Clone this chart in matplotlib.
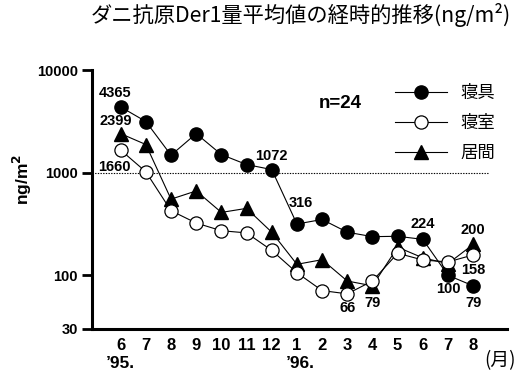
import numpy as np
import matplotlib
matplotlib.use("Agg")
import matplotlib.pyplot as plt

# monthly means, Jun '95 - Aug '96 (ng/m2)
months = ["6", "7", "8", "9", "10", "11", "12", "1", "2", "3", "4", "5", "6", "7", "8"]
bedding = [4365, 3150, 1480, 2400, 1500, 1200, 1072, 316, 350, 263, 238, 240, 224, 100, 79]
bedroom = [1660, 1020, 426, 323, 272, 259, 175, 106, 71, 66, 88, 164, 141, 135, 158]
living = [2399, 1880, 552, 664, 410, 449, 263, 128, 142, 88, 79, 188, 148, 130, 200]

# (series, index, text, dx, dy) in pixels
labels = [
    ("bedding", 0, "4365", -6, 14),
    ("living", 0, "2399", -5, 13),
    ("bedroom", 0, "1660", -6, -17),
    ("bedding", 6, "1072", 0, 14),
    ("bedding", 7, "316", 4, 21),
    ("bedding", 12, "224", 0, 15),
    ("living", 14, "200", 0, 14),
    ("bedroom", 14, "158", 0, -15),
    ("bedding", 13, "100", 0, -14),
    ("bedding", 14, "79", 0, -17),
    ("bedroom", 9, "66", 0, -14),
    ("living", 10, "79", 0, -17),
]

num_font = "Liberation Sans"
jp_font = ["Noto Sans CJK JP", "DejaVu Sans"]

fig = plt.figure(figsize=(5.19, 3.72), dpi=100)
ax = fig.add_axes([0.1767, 1 - 329 / 372, 0.8, (329 - 70) / 372])

x = np.arange(len(months))
series = {"bedding": bedding, "bedroom": bedroom, "living": living}

ax.plot(x, living, color="black", lw=0.8, marker="^", ms=9.5,
        mfc="black", mec="black", label="居間", zorder=3)
ax.plot(x, bedroom, color="black", lw=0.8, marker="o", ms=9.5,
        mfc="white", mec="black", mew=0.9, label="寝室", zorder=4)
ax.plot(x, bedding, color="black", lw=0.8, marker="o", ms=9.5,
        mfc="black", mec="black", label="寝具", zorder=5)

ax.axhline(1000, xmin=0, xmax=0.955, color="black", lw=0.8, ls=(0, (1.2, 1.2)), zorder=1)

ax.set_yscale("log")
ax.set_ylim(30, 10000)
ax.set_xlim(-1.15, 15.34)
ax.set_yticks([30, 100, 1000, 10000])
ax.set_yticklabels(["30", "100", "1000", "10000"])
ax.yaxis.set_minor_locator(matplotlib.ticker.NullLocator())
ax.set_xticks(x)
ax.set_xticklabels(months)

for lab in ax.get_yticklabels() + ax.get_xticklabels():
    lab.set_fontfamily(num_font)
    lab.set_fontweight("bold")
for lab in ax.get_yticklabels():
    lab.set_fontsize(10.5)
for lab in ax.get_xticklabels():
    lab.set_fontsize(12)

ax.tick_params(axis="y", length=7, width=2, pad=3, direction="out")
ax.tick_params(axis="x", length=0, pad=6.5)
for s in ["top", "right"]:
    ax.spines[s].set_visible(False)
for s in ["left", "bottom"]:
    ax.spines[s].set_linewidth(2.2)

for key, i, txt, dx, dy in labels:
    ax.annotate(txt, (x[i], series[key][i]), xytext=(dx, dy),
                textcoords="offset pixels", ha="center", va="center",
                fontsize=10.5, fontweight="bold", family=num_font, zorder=6)

# year marks under the x axis
fig.text(120 / 519, 1 - 363 / 372, "’95.", ha="center", va="center",
         fontsize=12.5, fontweight="bold", family=num_font)
fig.text(300 / 519, 1 - 363 / 372, "’96.", ha="center", va="center",
         fontsize=12.5, fontweight="bold", family=num_font)
fig.text(500 / 519, 1 - 361 / 372, "(月)", ha="center", va="center",
         fontsize=13.5, family=jp_font)

fig.text(22 / 519, 1 - 179 / 372, "ng/m$\\mathbf{^2}$", rotation=90, ha="center", va="center",
         fontsize=12.5, fontweight="bold", family=num_font)
fig.text(340 / 519, 1 - 103 / 372, "n=24", ha="center", va="center",
         fontsize=13.5, fontweight="bold", family=num_font)

fig.text(301 / 519, 1 - 15 / 372, "ダニ抗原Der1量平均値の経時的推移(ng/m²)",
         ha="center", va="center", fontsize=15.3, family=jp_font)

h, l = ax.get_legend_handles_labels()
leg = ax.legend(h[::-1], l[::-1], loc="upper left", bbox_to_anchor=(395 / 519, 1 - 84 / 372),
                bbox_transform=fig.transFigure, frameon=False, handlelength=3.0,
                handletextpad=0.75, labelspacing=0.68, prop={"family": jp_font, "size": 12.5},
                borderpad=0, borderaxespad=0)

fig.savefig("out.png", dpi=100)
